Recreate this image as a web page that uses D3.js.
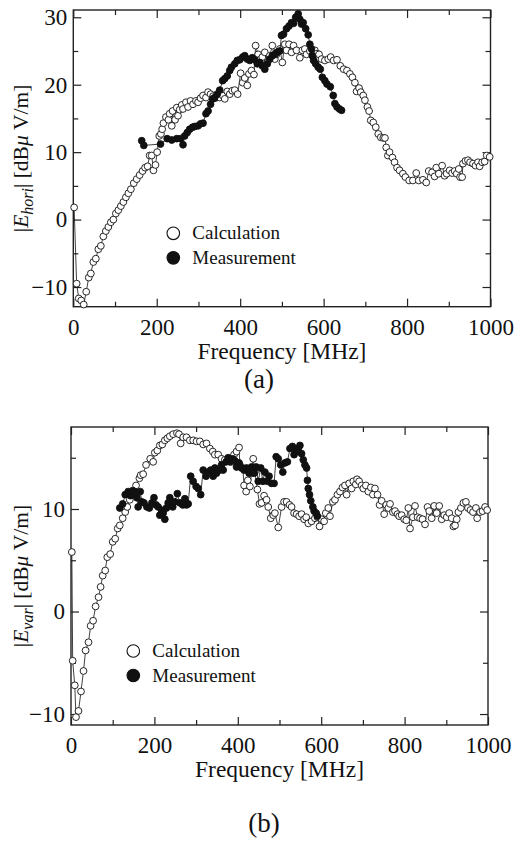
<!DOCTYPE html>
<html>
<head>
<meta charset="utf-8">
<script src="https://cdn.jsdelivr.net/npm/d3@7/dist/d3.min.js"></script>
<style>
  body { margin: 0; background: #fff; }
  svg, svg text { font-family: "Liberation Serif", "Times New Roman", serif; }
</style>
</head>
<body>
<div id="chart"></div>
<script>
// frequency [MHz], field [dBuV/m]
var calcHori = [[2,1.8],[8,-9.5],[13,-11.7],[19,-12.0],[25,-12.6],[31,-10.7],[37,-8.6],[42,-8.0],[48,-6.3],[54,-5.8],[60,-4.4],[66,-3.9],[72,-2.5],[78,-1.7],[84,-1.1],[90,-0.4],[96,0.0],[102,0.9],[108,1.4],[114,2.0],[120,2.6],[126,3.3],[132,3.9],[138,4.5],[145,5.4],[152,6.0],[159,6.6],[166,7.2],[172,7.7],[178,7.9],[183,9.5],[188,9.5],[192,7.3],[197,8.1],[201,10.0],[206,12.4],[210,12.7],[213,13.4],[216,14.3],[222,15.2],[228,14.8],[231,15.7],[236,13.9],[238,16.1],[244,14.8],[248,16.6],[251,15.4],[255,16.3],[260,17.0],[263,16.4],[270,17.4],[275,16.7],[281,17.6],[287,17.1],[294,17.6],[299,17.4],[305,18.0],[311,18.4],[318,18.1],[323,18.9],[329,18.6],[335,18.3],[340,18.0],[345,18.2],[351,18.1],[358,18.4],[363,17.9],[369,19.0],[375,18.6],[381,19.1],[387,19.2],[394,18.6],[401,21.7],[406,20.3],[411,21.0],[417,19.9],[421,21.6],[427,22.1],[433,21.5],[437,25.8],[443,24.5],[447,23.7],[453,24.1],[459,24.8],[465,23.3],[471,24.3],[477,25.8],[483,23.8],[487,24.5],[495,25.3],[501,23.3],[507,26.0],[511,25.1],[517,26.0],[523,24.8],[528,25.8],[535,25.1],[543,24.0],[549,25.1],[555,25.3],[559,24.5],[567,25.0],[573,24.4],[579,25.1],[584,24.6],[589,24.5],[595,23.8],[603,23.6],[611,23.8],[617,24.1],[624,23.6],[632,23.7],[640,22.8],[648,22.3],[656,22.1],[663,21.6],[669,21.1],[675,20.3],[679,19.0],[685,19.5],[689,18.9],[695,18.4],[699,17.7],[705,16.7],[709,16.1],[713,14.7],[719,14.4],[725,13.7],[731,12.7],[737,12.2],[743,12.1],[747,12.1],[750,10.7],[754,9.5],[758,10.0],[765,9.2],[770,8.5],[776,7.7],[782,7.3],[790,6.8],[796,6.3],[805,5.8],[814,5.8],[822,6.9],[828,5.8],[838,5.9],[846,5.5],[852,7.2],[860,7.0],[866,6.4],[870,7.7],[876,6.8],[884,8.0],[890,6.5],[895,6.8],[902,7.3],[908,6.9],[914,7.2],[919,6.8],[924,7.5],[927,6.3],[932,6.3],[934,8.3],[940,8.7],[946,8.8],[951,8.5],[958,8.3],[964,8.0],[970,8.5],[974,7.9],[980,8.5],[986,8.6],[991,9.5],[998,9.3]];

var measHori = [[164,11.7],[169,11.0],[209,11.2],[225,12.0],[236,11.8],[248,12.0],[257,12.0],[263,11.1],[267,12.4],[273,12.9],[279,13.4],[286,13.7],[291,13.8],[299,13.9],[305,14.2],[311,14.3],[318,15.7],[323,16.1],[329,17.1],[334,17.9],[339,18.1],[345,18.6],[351,19.2],[358,20.6],[363,20.9],[369,21.3],[375,22.1],[379,22.6],[387,23.1],[393,23.6],[399,23.7],[406,24.1],[411,24.3],[417,23.8],[423,23.6],[429,24.0],[435,23.7],[441,23.1],[447,23.3],[453,22.8],[459,22.3],[465,23.1],[471,23.8],[477,24.3],[483,24.5],[488,24.8],[495,25.0],[499,27.3],[504,27.5],[511,28.3],[517,28.7],[523,29.2],[528,29.1],[533,30.0],[539,30.5],[543,29.7],[547,29.0],[551,29.2],[557,28.3],[563,27.4],[567,26.0],[571,25.3],[573,24.3],[576,23.6],[581,23.1],[587,22.6],[592,22.3],[597,21.1],[603,20.6],[608,20.1],[616,19.7],[623,18.4],[627,17.2],[632,16.7],[638,16.4],[643,16.2]];

var calcVar = [[2,5.8],[4,-4.8],[9,-7.2],[12,-10.3],[18,-9.7],[24,-7.8],[30,-5.8],[35,-3.8],[42,-3.0],[47,-1.4],[53,-0.9],[59,0.5],[66,1.4],[71,2.4],[76,3.5],[82,4.0],[87,5.3],[94,5.6],[100,6.8],[106,7.1],[112,8.1],[117,8.4],[124,9.1],[130,9.7],[135,10.2],[141,10.9],[148,11.5],[156,12.3],[164,13.0],[167,13.3],[173,13.4],[180,14.3],[190,14.9],[197,14.6],[201,15.5],[207,15.7],[213,16.2],[219,16.3],[225,16.7],[231,16.9],[237,17.1],[245,17.3],[254,17.4],[259,17.3],[263,16.4],[269,17.0],[277,17.0],[285,16.7],[293,16.7],[301,16.6],[309,16.6],[317,16.3],[325,16.4],[333,15.9],[340,15.6],[345,15.3],[353,15.3],[361,14.9],[369,14.8],[377,14.9],[385,14.6],[391,15.3],[397,15.6],[403,16.0],[405,14.3],[412,14.0],[415,12.3],[420,11.7],[424,12.8],[429,12.2],[433,13.5],[437,14.9],[441,13.6],[447,11.9],[452,10.5],[457,10.6],[463,11.3],[469,10.9],[473,10.2],[479,9.1],[485,9.4],[489,9.6],[497,8.2],[505,10.2],[511,10.7],[517,10.7],[524,10.4],[529,10.2],[535,9.6],[541,9.5],[547,9.3],[553,9.5],[559,9.0],[564,9.2],[569,8.6],[577,8.8],[585,9.1],[591,9.2],[596,8.3],[601,9.0],[607,8.8],[611,9.6],[617,10.1],[621,9.3],[628,10.7],[633,10.9],[639,11.4],[645,11.7],[651,12.1],[657,12.3],[661,11.4],[667,12.5],[673,12.0],[677,12.7],[683,12.4],[686,12.9],[691,12.7],[697,12.3],[701,12.0],[707,12.3],[713,11.7],[719,12.1],[724,11.4],[729,12.0],[735,11.4],[740,10.4],[745,10.8],[751,9.5],[756,10.4],[761,10.1],[765,10.5],[772,9.7],[777,9.8],[783,9.5],[787,9.3],[793,9.4],[799,9.0],[804,8.9],[809,10.1],[813,8.1],[820,9.2],[825,10.3],[831,9.2],[837,9.1],[843,9.0],[849,8.5],[855,10.2],[859,9.8],[865,9.1],[871,10.3],[877,9.6],[883,10.3],[889,9.0],[895,9.4],[901,9.2],[907,9.6],[913,9.1],[917,8.3],[921,8.4],[925,9.0],[929,9.7],[935,10.1],[941,10.6],[947,10.7],[952,10.1],[958,9.9],[964,9.7],[971,10.1],[974,9.1],[981,9.7],[987,9.8],[993,10.2],[998,9.9]];

var measVar = [[117,10.1],[124,10.5],[130,11.4],[137,11.7],[143,11.3],[148,11.8],[153,11.7],[158,11.1],[161,10.2],[166,11.7],[170,10.7],[175,10.6],[182,10.2],[188,10.1],[194,10.6],[199,11.1],[204,10.4],[209,10.2],[213,9.4],[217,9.9],[221,9.6],[225,9.0],[229,10.1],[233,10.6],[237,11.1],[244,10.2],[249,10.7],[255,11.5],[261,10.6],[268,10.4],[273,11.0],[277,10.4],[281,10.5],[287,13.2],[293,12.7],[300,12.2],[305,12.0],[311,11.4],[317,13.8],[324,13.2],[329,13.6],[335,13.8],[341,13.2],[345,14.0],[349,13.5],[356,13.8],[361,14.3],[365,13.8],[372,14.6],[377,15.0],[381,14.6],[388,14.9],[393,14.7],[397,14.1],[403,14.5],[409,14.0],[415,13.8],[421,14.0],[427,13.5],[433,14.1],[439,13.5],[444,14.1],[449,12.7],[455,14.0],[460,12.7],[465,13.6],[471,12.7],[475,13.2],[481,12.5],[487,12.5],[492,15.1],[497,14.9],[503,14.3],[508,13.6],[513,14.5],[519,14.6],[525,15.9],[531,16.1],[535,15.3],[540,15.6],[545,15.9],[549,16.2],[553,15.4],[557,14.8],[561,14.3],[565,14.0],[567,12.8],[569,12.0],[572,11.4],[575,10.8],[580,10.2],[583,9.8],[588,9.6],[591,9.3]];

var xMajor = [0, 200, 400, 600, 800, 1000];
var xMinor = [100, 300, 500, 700, 900];
var yMajorHori = [-10, 0, 10, 20, 30];
var yMinorHori = [-5, 5, 15, 25];
var yMajorVar = [-10, 0, 10];
var yMinorVar = [-5, 5, 15];
var legendNames = ["Calculation", "Measurement"];

var width = 517, height = 847;
var serif = "'Liberation Serif', 'Times New Roman', serif";

var svg = d3.select("#chart").append("svg")
    .attr("width", width)
    .attr("height", height);

function drawPanel(p) {
    var x = d3.scaleLinear().domain([0, 1000]).range([p.left, p.right]);
    var y = d3.scaleLinear().domain(p.yDomain).range([p.bottom, p.top]);
    var g = svg.append("g");

    // ticks point inward on all four sides
    function tickAxis(axis, pos, vals, size, labels, pad) {
        var a = g.append("g")
            .attr("transform", pos)
            .call(axis.tickValues(vals).tickSize(-size)
                .tickPadding(pad || 6)
                .tickFormat(labels ? d3.format("d") : ""));
        a.attr("font-family", null);
        a.select(".domain").remove();
        a.selectAll("line").attr("stroke", "#222").attr("stroke-width", 1.2);
        a.selectAll("text")
            .style("font-family", serif)
            .style("font-size", "23px")
            .attr("fill", "#111");
        return a;
    }

    tickAxis(d3.axisBottom(x), "translate(0," + p.bottom + ")", xMajor, 8, true, 12);
    tickAxis(d3.axisBottom(x), "translate(0," + p.bottom + ")", xMinor, 5, false);
    tickAxis(d3.axisTop(x), "translate(0," + p.top + ")", xMajor, 8, false);
    tickAxis(d3.axisTop(x), "translate(0," + p.top + ")", xMinor, 5, false);
    tickAxis(d3.axisLeft(y), "translate(" + p.left + ",0)", p.yMajor, 8, true, 6);
    tickAxis(d3.axisLeft(y), "translate(" + p.left + ",0)", p.yMinor, 5, false);
    tickAxis(d3.axisRight(y), "translate(" + p.right + ",0)", p.yMajor, 8, false);
    tickAxis(d3.axisRight(y), "translate(" + p.right + ",0)", p.yMinor, 5, false);

    g.append("rect")
        .attr("x", p.left).attr("y", p.top)
        .attr("width", p.right - p.left).attr("height", p.bottom - p.top)
        .attr("fill", "none").attr("stroke", "#222").attr("stroke-width", 1.4);

    var line = d3.line()
        .x(function (d) { return x(d[0]); })
        .y(function (d) { return y(d[1]); });

    [[p.calc, "#fff"], [p.meas, "#111"]].forEach(function (s) {
        g.append("path")
            .datum(s[0])
            .attr("d", line)
            .attr("fill", "none")
            .attr("stroke", "#111")
            .attr("stroke-width", 0.8);
        g.append("g").selectAll("circle")
            .data(s[0])
            .enter().append("circle")
            .attr("cx", function (d) { return x(d[0]); })
            .attr("cy", function (d) { return y(d[1]); })
            .attr("r", 3.4)
            .attr("fill", s[1])
            .attr("stroke", "#111")
            .attr("stroke-width", 0.9);
    });

    // legend
    var leg = g.append("g").selectAll("g")
        .data(legendNames)
        .enter().append("g")
        .attr("transform", function (d, i) { return "translate(" + p.legX + "," + (p.legY + i * 24.5) + ")"; });
    leg.append("circle")
        .attr("r", 6.3)
        .attr("fill", function (d, i) { return i === 0 ? "#fff" : "#111"; })
        .attr("stroke", "#111")
        .attr("stroke-width", 1.1);
    leg.append("text")
        .attr("x", 19)
        .attr("y", 6)
        .style("font-family", serif)
        .style("font-size", "19px")
        .attr("fill", "#111")
        .text(function (d) { return d; });

    g.append("text")
        .attr("x", (p.left + p.right) / 2)
        .attr("y", p.bottom + 52)
        .attr("text-anchor", "middle")
        .style("font-family", serif)
        .style("font-size", "23.5px")
        .attr("fill", "#111")
        .text("Frequency [MHz]");

    var yl = g.append("text")
        .attr("transform", "translate(" + p.yLabelX + "," + (p.top + p.bottom) / 2 + ") rotate(-90)")
        .attr("text-anchor", "middle")
        .style("font-family", serif)
        .style("font-size", "21.5px")
        .attr("fill", "#111");
    yl.append("tspan").text("|");
    yl.append("tspan").attr("font-style", "italic").text("E");
    yl.append("tspan").attr("font-style", "italic").style("font-size", "16px").attr("dy", 5).text(p.sub);
    yl.append("tspan").attr("dy", -5).text("| [dB");
    yl.append("tspan").attr("font-style", "italic").text("μ");
    yl.append("tspan").text(" V/m]");

    g.append("text")
        .attr("x", p.tagX)
        .attr("y", p.tagY)
        .attr("text-anchor", "middle")
        .style("font-family", serif)
        .style("font-size", "27px")
        .attr("fill", "#111")
        .text(p.tag);
}

drawPanel({
    left: 73.3, right: 490.5, top: 10, bottom: 306.7,
    yDomain: [-12.92, 31.08], yMajor: yMajorHori, yMinor: yMinorHori,
    calc: calcHori, meas: measHori, sub: "hori",
    legX: 173.3, legY: 233.3, yLabelX: 28, tag: "(a)", tagX: 259, tagY: 388
});

drawPanel({
    left: 71, right: 488, top: 427, bottom: 725,
    yDomain: [-11.07, 18.0], yMajor: yMajorVar, yMinor: yMinorVar,
    calc: calcVar, meas: measVar, sub: "var",
    legX: 133.3, legY: 651, yLabelX: 28, tag: "(b)", tagX: 264, tagY: 832
});
</script>
</body>
</html>
